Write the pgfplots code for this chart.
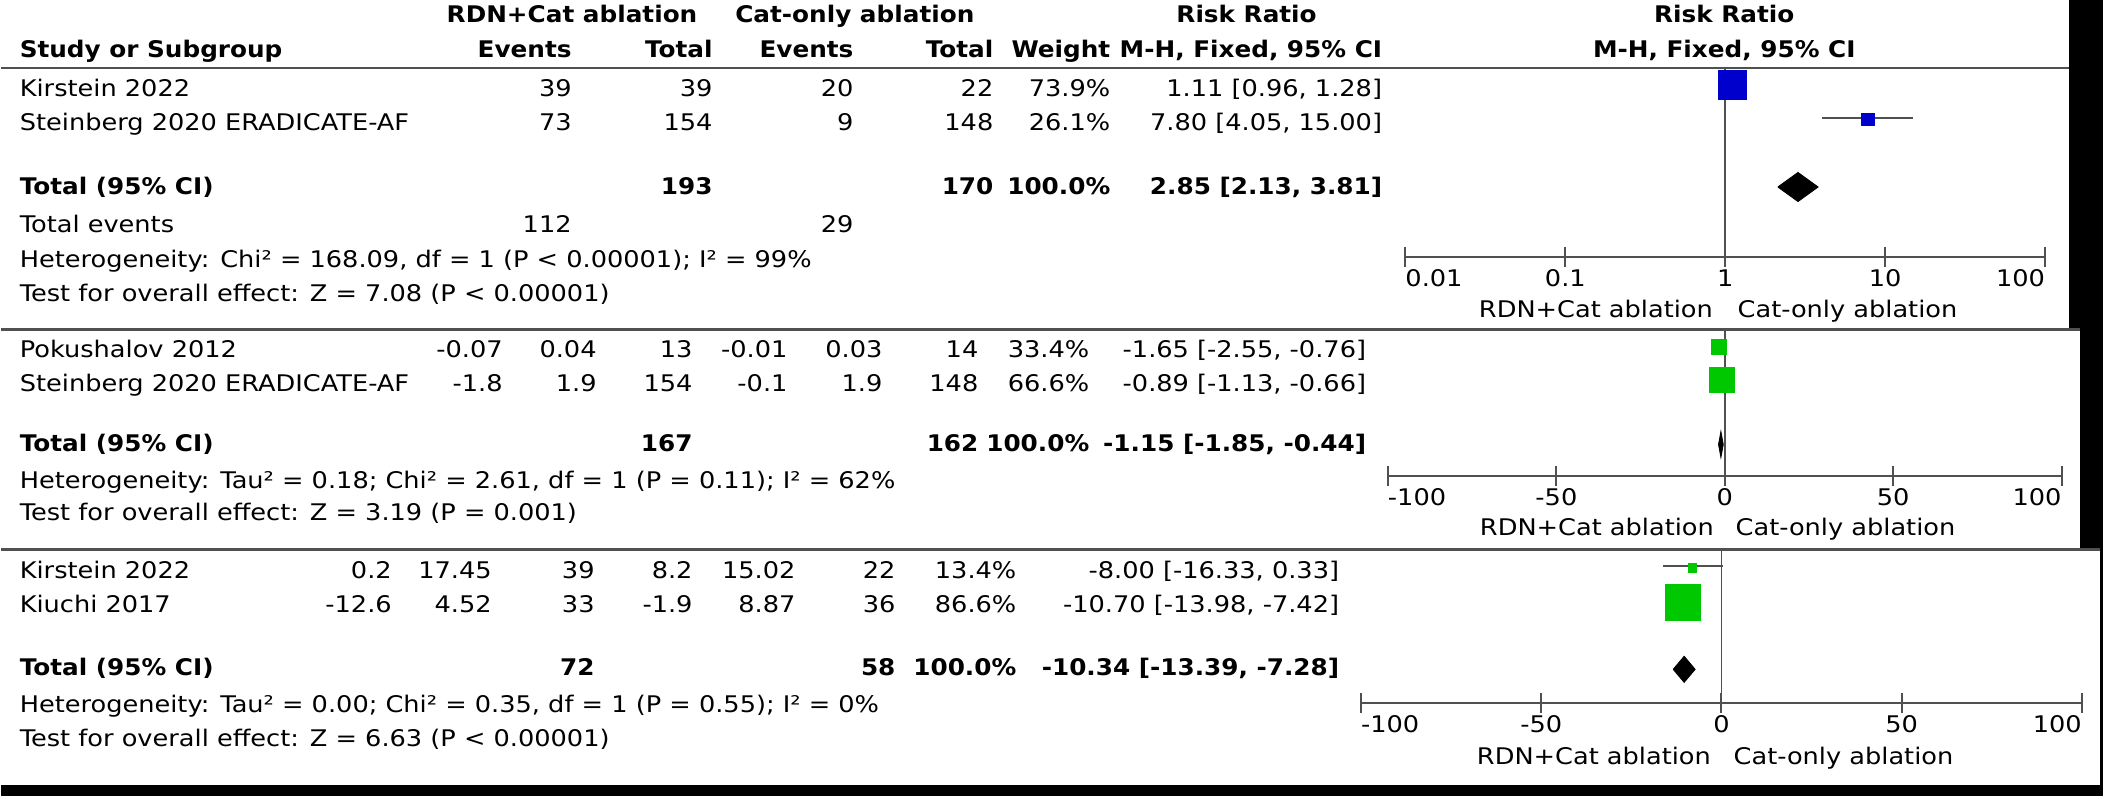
\documentclass[border=0pt]{standalone}
\usepackage{fontspec}
\setmainfont{DejaVu Sans}[FakeStretch=1.12, BoldFeatures={FakeStretch=1.08}]
\usepackage{pgfplots}
\pgfplotsset{compat=1.18}

\definecolor{rmblue}{RGB}{0,0,204}
\definecolor{rmgreen}{RGB}{0,200,0}
\definecolor{rule}{RGB}{80,80,80}

% one pixel of the reference = 0.5pt
\pgfplotsset{
  forest/.style={
    scale only axis, anchor=south west, y dir=reverse,
    axis y line=none, axis x line*=bottom, ytick=\empty,
    x axis line style={draw=rule, line width=1pt, -},
    tick align=center, major tick length=10pt, xminorticks=false,
    x tick style={draw=rule, line width=1pt},
    xticklabel style={anchor=base, yshift=-10pt},
    clip=false,
  },
  ci/.style={draw=rule, line width=1pt},
  study/.style={only marks, mark=square*, mark options={draw=#1, fill=#1}},
}

\newcommand\R[3]{\node[anchor=base east, inner sep=0pt] at (axis cs:#1,#2) {#3};}
\newcommand\Lt[3]{\node[anchor=base west, inner sep=0pt] at (axis cs:#1,#2) {#3};}
\newcommand\C[3]{\node[anchor=base, inner sep=0pt] at (axis cs:#1,#2) {#3};}

\begin{document}
\fontsize{11.45}{13}\selectfont
\begin{tikzpicture}

% page frame in pixel units, the table text sits on it
\begin{axis}[name=frame, at={(0,0)}, anchor=south west, scale only axis,
  width=1051.5pt, height=398.5pt, xmin=0, xmax=2103, ymin=0, ymax=797,
  y dir=reverse, hide axis, clip=false]
\path (axis cs:0,0) rectangle (axis cs:2103,797);
\fill[black] (axis cs:2069,0) rectangle (axis cs:2103,329);
\fill[black] (axis cs:2080,329) rectangle (axis cs:2103,549);
\fill[black] (axis cs:2100,549) rectangle (axis cs:2103,797);
\fill[black] (axis cs:0,786) rectangle (axis cs:2103,797);
\draw[rule, line width=1.4pt] (axis cs:0,68) -- (axis cs:2069,68);
\draw[rule, line width=1.4pt] (axis cs:0,330) -- (axis cs:2080,330);
\draw[rule, line width=1.4pt] (axis cs:0,550) -- (axis cs:2100,550);

% headers
\C{571}{23}{\bfseries RDN+Cat ablation}
\C{854}{23}{\bfseries Cat-only ablation}
\C{1246}{23}{\bfseries Risk Ratio}
\C{1724}{23}{\bfseries Risk Ratio}
\Lt{18}{58}{\bfseries Study or Subgroup}
\R{571}{58}{\bfseries Events}
\R{712}{58}{\bfseries Total}
\R{853}{58}{\bfseries Events}
\R{993}{58}{\bfseries Total}
\R{1110}{58}{\bfseries Weight}
\R{1382}{58}{\bfseries M-H, Fixed, 95\% CI}
\C{1724}{58}{\bfseries M-H, Fixed, 95\% CI}

% panel 1
\Lt{18}{97}{Kirstein 2022}
\R{571}{97}{39}\R{712}{97}{39}\R{853}{97}{20}\R{993}{97}{22}
\R{1110}{97}{73.9\%}\R{1382}{97}{1.11 [0.96, 1.28]}
\Lt{18}{131}{Steinberg 2020 ERADICATE-AF}
\R{571}{131}{73}\R{712}{131}{154}\R{853}{131}{9}\R{993}{131}{148}
\R{1110}{131}{26.1\%}\R{1382}{131}{7.80 [4.05, 15.00]}
\Lt{18}{195}{\bfseries Total (95\% CI)}
\R{712}{195}{\bfseries 193}\R{993}{195}{\bfseries 170}
\R{1110}{195}{\bfseries 100.0\%}\R{1382}{195}{\bfseries 2.85 [2.13, 3.81]}
\Lt{18}{233}{Total events}
\R{571}{233}{112}\R{853}{233}{29}
\Lt{18}{268}{Heterogeneity: Chi² = 168.09, df = 1 (P < 0.00001); I² = 99\%}
\Lt{18}{302}{Test for overall effect: Z = 7.08 (P < 0.00001)}
\R{1713}{318}{RDN+Cat ablation}\Lt{1737}{318}{Cat-only ablation}

% panel 2
\Lt{18}{358}{Pokushalov 2012}
\R{502}{358}{-0.07}\R{596}{358}{0.04}\R{692}{358}{13}\R{787}{358}{-0.01}
\R{882}{358}{0.03}\R{978}{358}{14}\R{1089}{358}{33.4\%}\R{1366}{358}{-1.65 [-2.55, -0.76]}
\Lt{18}{392}{Steinberg 2020 ERADICATE-AF}
\R{502}{392}{-1.8}\R{596}{392}{1.9}\R{692}{392}{154}\R{787}{392}{-0.1}
\R{882}{392}{1.9}\R{978}{392}{148}\R{1089}{392}{66.6\%}\R{1366}{392}{-0.89 [-1.13, -0.66]}
\Lt{18}{452}{\bfseries Total (95\% CI)}
\R{692}{452}{\bfseries 167}\R{978}{452}{\bfseries 162}
\R{1089}{452}{\bfseries 100.0\%}\R{1366}{452}{\bfseries -1.15 [-1.85, -0.44]}
\Lt{18}{489}{Heterogeneity: Tau² = 0.18; Chi² = 2.61, df = 1 (P = 0.11); I² = 62\%}
\Lt{18}{521}{Test for overall effect: Z = 3.19 (P = 0.001)}
\R{1714}{536}{RDN+Cat ablation}\Lt{1735}{536}{Cat-only ablation}

% panel 3
\Lt{18}{579}{Kirstein 2022}
\R{391}{579}{0.2}\R{491}{579}{17.45}\R{594}{579}{39}\R{692}{579}{8.2}
\R{795}{579}{15.02}\R{895}{579}{22}\R{1016}{579}{13.4\%}\R{1339}{579}{-8.00 [-16.33, 0.33]}
\Lt{18}{613}{Kiuchi 2017}
\R{391}{613}{-12.6}\R{491}{613}{4.52}\R{594}{613}{33}\R{692}{613}{-1.9}
\R{795}{613}{8.87}\R{895}{613}{36}\R{1016}{613}{86.6\%}\R{1339}{613}{-10.70 [-13.98, -7.42]}
\Lt{18}{676}{\bfseries Total (95\% CI)}
\R{594}{676}{\bfseries 72}\R{895}{676}{\bfseries 58}
\R{1016}{676}{\bfseries 100.0\%}\R{1339}{676}{\bfseries -10.34 [-13.39, -7.28]}
\Lt{18}{713}{Heterogeneity: Tau² = 0.00; Chi² = 0.35, df = 1 (P = 0.55); I² = 0\%}
\Lt{18}{747}{Test for overall effect: Z = 6.63 (P < 0.00001)}
\R{1711}{765}{RDN+Cat ablation}\Lt{1733}{765}{Cat-only ablation}
\end{axis}

% panel 1 forest plot, risk ratio on a log scale
\begin{axis}[forest, xmode=log, at={(702.5pt,270pt)}, width=320pt, height=95pt,
  xmin=0.01, xmax=100, ymin=68, ymax=257,
  xtick={0.01,0.1,1,10,100}, xticklabels={\rlap{0.01},0.1,1,10,\llap{100}}]
\addplot[draw=rule, line width=0.8pt] coordinates {(1,68) (1,257)};
\addplot[ci] coordinates {(0.96,86) (1.28,86)};
\addplot[ci] coordinates {(4.05,119) (15.00,119)};
\addplot[study=rmblue, mark size=7.1pt] coordinates {(1.11,86)};
\addplot[study=rmblue, mark size=3.1pt] coordinates {(7.80,120)};
\addplot[fill=black, draw=black] coordinates
  {(2.13,187.5) (2.85,173) (3.81,187.5) (2.85,202) (2.13,187.5)};
\end{axis}

% panel 2 forest plot
\begin{axis}[forest, at={(693.75pt,160.5pt)}, width=337pt, height=73pt,
  xmin=-100, xmax=100, ymin=331, ymax=476,
  xtick={-100,-50,0,50,100}, xticklabels={\rlap{-100},-50,0,50,\llap{100}}]
\addplot[draw=rule, line width=0.8pt] coordinates {(0,331) (0,476)};
\addplot[ci] coordinates {(-2.55,348) (-0.76,348)};
\addplot[ci] coordinates {(-1.13,381) (-0.66,381)};
\addplot[study=rmgreen, mark size=3.8pt] coordinates {(-1.65,348)};
\addplot[study=rmgreen, mark size=6.4pt] coordinates {(-0.89,381)};
\addplot[fill=black, draw=black] coordinates
  {(-1.85,445) (-1.15,432) (-0.44,445) (-1.15,458) (-1.85,445)};
\end{axis}

% panel 3 forest plot
\begin{axis}[forest, at={(680.3pt,47pt)}, width=360.55pt, height=76.5pt,
  xmin=-100, xmax=100, ymin=551, ymax=703,
  xtick={-100,-50,0,50,100}, xticklabels={\rlap{-100},-50,0,50,\llap{100}}]
\addplot[draw=rule, line width=0.8pt] coordinates {(0,551) (0,703)};
\addplot[ci] coordinates {(-16.33,567) (0.33,567)};
\addplot[ci] coordinates {(-13.98,603.5) (-7.42,603.5)};
\addplot[study=rmgreen, mark size=2.1pt] coordinates {(-8.00,569)};
\addplot[study=rmgreen, mark size=8.9pt] coordinates {(-10.70,603.5)};
\addplot[fill=black, draw=black] coordinates
  {(-13.39,670) (-10.34,657) (-7.28,670) (-10.34,683) (-13.39,670)};
\end{axis}

\end{tikzpicture}
\end{document}
